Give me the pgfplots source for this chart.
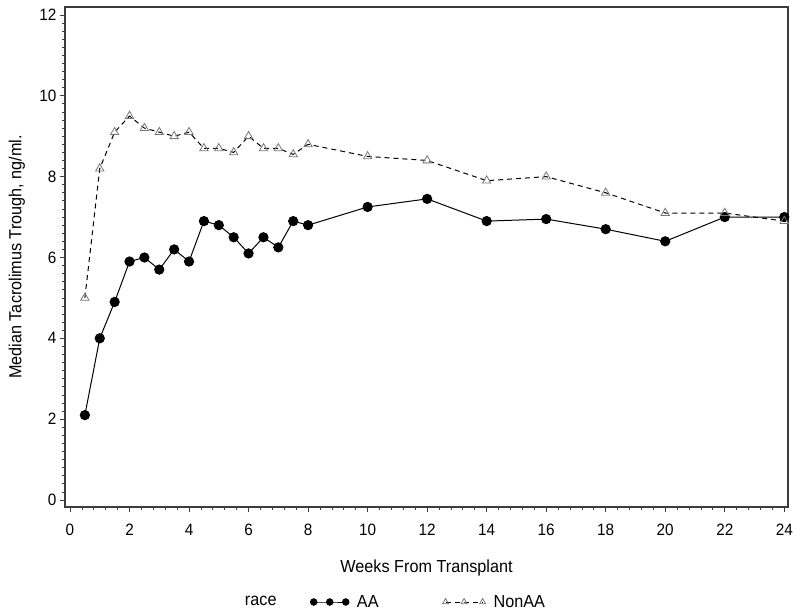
\documentclass[border=0pt]{standalone}
\usepackage{fontspec}
\setmainfont{Liberation Sans}[FakeStretch=0.93]
\usepackage{pgfplots}
\pgfplotsset{compat=1.18}
\definecolor{framegray}{RGB}{60,60,60}
\definecolor{trigray}{RGB}{120,120,120}
\begin{document}
\begin{tikzpicture}
\useasboundingbox (-65bp,-107bp) rectangle (735bp,507bp);
\begin{axis}[
  at={(0,0)}, anchor=south west,
  scale only axis, width=723bp, height=500bp,
  xmin=-0.168, xmax=24.125, ymin=-0.173, ymax=12.197,
  xtick={0,2,...,24}, ytick={0,2,...,12},
  minor x tick num=4, minor y tick num=9,
  tick align=outside, tick pos=left,
  major tick length=5bp, minor tick length=3bp,
  axis line style={framegray, line width=1.4bp},
  every tick/.style={framegray, line width=0.8bp},
  /pgf/number format/assume math mode=true,
  ticklabel style={font=\fontsize{16.5}{18}\selectfont},
  xticklabel style={yshift=-9bp},
  xlabel={Weeks From Transplant},
  ylabel={Median Tacrolimus Trough, ng/ml.},
  every axis x label/.style={at={(axis description cs:0.5,-0.1314)}, anchor=base,
    font=\fontsize{17.5}{20}\selectfont},
  every axis y label/.style={at={(axis description cs:-0.0664,0.5)}, rotate=90, anchor=center,
    font=\fontsize{17.5}{20}\selectfont},
  legend columns=3,
  legend style={draw=none, fill=none, at={(axis description cs:0.4564,-0.19)}, anchor=center,
    font=\fontsize{17.5}{20}\selectfont,
    nodes={inner xsep=4bp},
    /tikz/column 2/.style={column sep=30bp},
    /tikz/column 3/.style={column sep=4bp},
    /tikz/column 4/.style={column sep=60bp},
    /tikz/column 5/.style={column sep=4bp}},
]
\addlegendimage{empty legend}
\addlegendentry{race}
\addplot[black, line width=1bp, mark=*, mark size=4.6bp,
  legend image code/.code={\draw[every mark/.append style={scale=0.7}] plot coordinates {(0bp,0bp) (16bp,0bp) (32bp,0bp)};}]
coordinates {
(0.5,2.1) (1,4.0) (1.5,4.9) (2,5.9) (2.5,6.0) (3,5.7) (3.5,6.2) (4,5.9)
(4.5,6.9) (5,6.8) (5.5,6.5) (6,6.1) (6.5,6.5) (7,6.25) (7.5,6.9) (8,6.8)
(10,7.25) (12,7.45) (14,6.9) (16,6.95) (18,6.7) (20,6.4) (22,7.0) (24,7.0)
};
\addlegendentry{AA}
\addplot[black, line width=1bp, dash pattern=on 5bp off 4bp, mark=triangle, mark size=4.8bp,
  mark options={solid, draw=trigray, fill=white, line width=0.8bp},
  legend image code/.code={\draw[every mark/.append style={scale=0.72}] plot coordinates {(0bp,0bp) (18.5bp,0bp) (37bp,0bp)};}]
coordinates {
(0.5,5.0) (1,8.2) (1.5,9.1) (2,9.5) (2.5,9.2) (3,9.1) (3.5,9.0) (4,9.1)
(4.5,8.7) (5,8.7) (5.5,8.6) (6,9.0) (6.5,8.7) (7,8.7) (7.5,8.55) (8,8.8)
(10,8.5) (12,8.4) (14,7.9) (16,8.0) (18,7.6) (20,7.1) (22,7.1) (24,6.9)
};
\addlegendentry{NonAA}
\end{axis}
\end{tikzpicture}
\end{document}
